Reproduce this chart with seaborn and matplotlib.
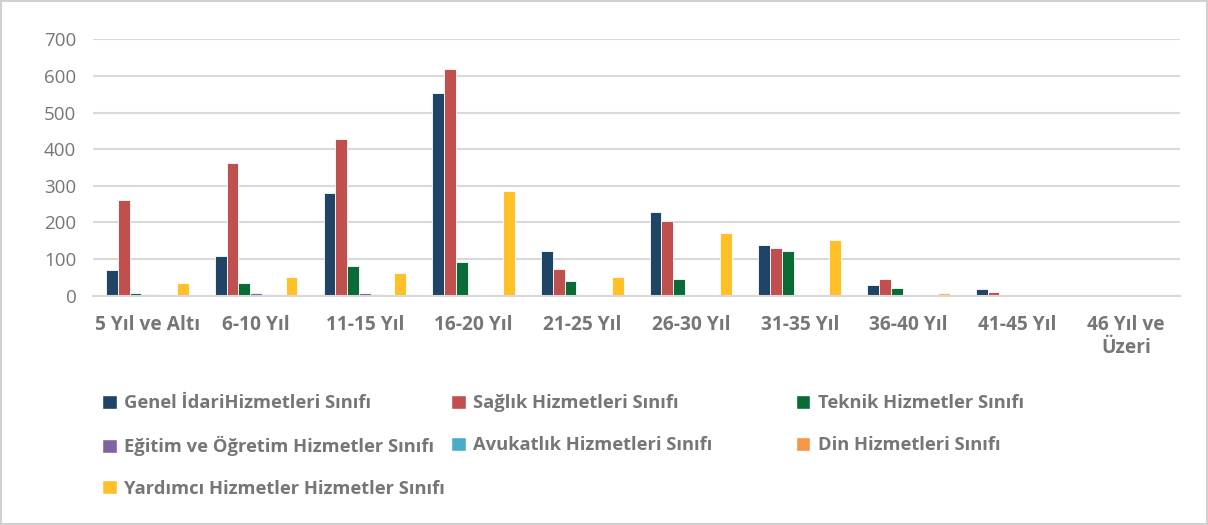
import matplotlib.pyplot as plt
import pandas as pd
import seaborn as sns
from matplotlib.patches import Patch

categories = ["5 Yıl ve Altı", "6-10 Yıl", "11-15 Yıl", "16-20 Yıl", "21-25 Yıl",
              "26-30 Yıl", "31-35 Yıl", "36-40 Yıl", "41-45 Yıl", "46 Yıl ve\nÜzeri"]

series_names = ["Genel İdariHizmetleri Sınıfı", "Sağlık Hizmetleri Sınıfı",
                "Teknik Hizmetler Sınıfı", "Eğitim ve Öğretim Hizmetler Sınıfı",
                "Avukatlık Hizmetleri Sınıfı", "Din Hizmetleri Sınıfı",
                "Yardımcı Hizmetler Hizmetler Sınıfı"]

genel = [71, 109, 279, 554, 122, 227, 137, 28, 17, 0]
saglik = [260, 363, 427, 618, 72, 205, 131, 44, 10, 0]
teknik = [8, 33, 82, 92, 39, 45, 122, 22, 1, 0]
egitim = [5, 7, 7, 1, 0, 0, 0, 0, 0, 0]
avukatlik = [1, 3, 4, 0, 0, 0, 0, 0, 0, 0]
din = [0, 0, 0, 0, 0, 0, 0, 0, 0, 0]
yardimci = [33, 50, 63, 287, 52, 171, 151, 7, 0, 0]

colors = ["#1F4465", "#C0504D", "#0B6B37", "#8064A2", "#4BACC6", "#F79646", "#FFC028"]
text_color = "#767676"

rows = []
for name, vals in zip(series_names, [genel, saglik, teknik, egitim, avukatlik, din, yardimci]):
    for cat, v in zip(categories, vals):
        rows.append({"Kategori": cat, "Sınıf": name, "Değer": v})
df = pd.DataFrame(rows)

sns.set_style("white")
plt.rcParams['font.family'] = ['Open Sans', 'DejaVu Sans']

fig = plt.figure(figsize=(12.08, 5.25), dpi=100, linewidth=1.5, edgecolor="#d0d0d0")
ax = fig.add_axes([0.077, 0.437, 0.9, 0.488])

sns.barplot(data=df, x="Kategori", y="Değer", hue="Sınıf", palette=colors,
            order=categories, hue_order=series_names, width=0.76, saturation=1,
            edgecolor="white", linewidth=0.6, legend=False, ax=ax)

ax.set_ylim(0, 700)
ax.set_yticks(range(0, 701, 100))
ax.grid(axis="y", color="#d9d9d9", linewidth=1.5)
ax.set_axisbelow(True)
for s in ["top", "right", "left"]:
    ax.spines[s].set_visible(False)
ax.spines["bottom"].set_color("#d9d9d9")
ax.spines["bottom"].set_linewidth(1.5)
ax.set_xlabel("")
ax.set_ylabel("")
ax.tick_params(axis="both", length=0, colors=text_color)
ax.tick_params(axis="y", labelsize=13.5, pad=12)
ax.tick_params(axis="x", labelsize=13.8, pad=14)
for lbl in ax.get_xticklabels():
    lbl.set_fontweight("bold")

# legend in three separate columns like the original
columns = [[0, 3, 6], [1, 4], [2, 5]]
xs = [0.071, 0.36, 0.645]
for idx, x in zip(columns, xs):
    handles = [Patch(facecolor=colors[i], label=series_names[i]) for i in idx]
    leg = fig.legend(handles=handles, loc="upper left", bbox_to_anchor=(x, 0.28),
                     frameon=False, handlelength=0.8, handleheight=0.8,
                     handletextpad=0.4, labelspacing=1.28,
                     prop={"size": 13.2, "weight": "bold"})
    for t in leg.get_texts():
        t.set_color(text_color)

fig.savefig("out.png", dpi=100)
